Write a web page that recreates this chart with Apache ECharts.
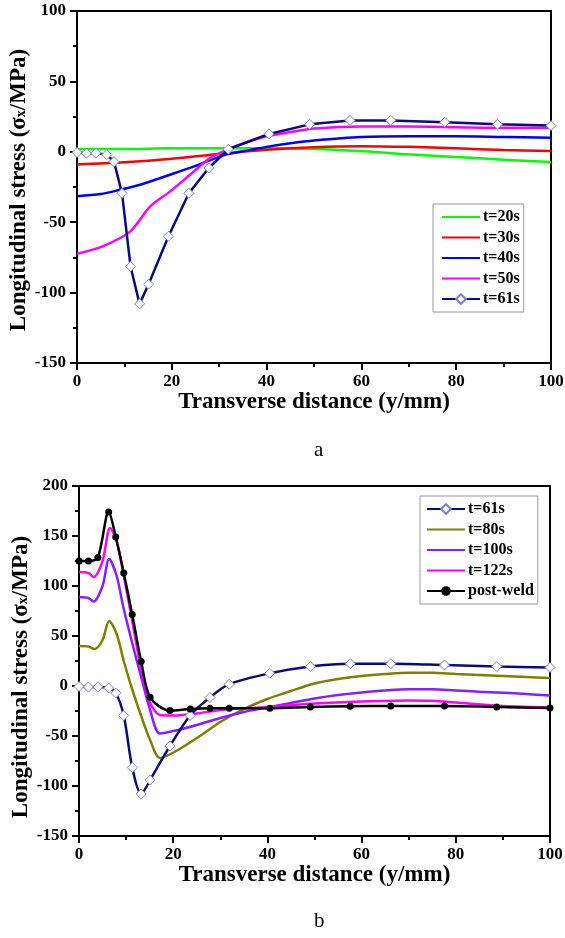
<!DOCTYPE html>
<html>
<head>
<meta charset="utf-8">
<script src="https://cdn.jsdelivr.net/npm/echarts@6.0.0/dist/echarts.min.js"></script>
<style>
  html, body { margin: 0; padding: 0; background: #fff; }
  #chart { width: 565px; height: 938px; }
</style>
</head>
<body>
<div id="chart"></div>
<script>
// x positions are transverse distance (mm), y values longitudinal stress (MPa)
const xTicks = [0, 20, 40, 60, 80, 100];
const yTicksA = [-150, -100, -50, 0, 50, 100];
const yTicksB = [-150, -100, -50, 0, 50, 100, 150, 200];

// panel a
const x20 = [0, 10, 20, 30, 40, 50, 60, 70, 80, 90, 100];
const y20 = [2, 2, 2.5, 2.5, 2.5, 2, 0.5, -1.8, -3.7, -5.6, -7.2];
const x30 = [0, 10, 20, 30, 40, 50, 60, 70, 80, 90, 100];
const y30 = [-9, -7.5, -5, -1.5, 1.5, 3.3, 4, 3.5, 2.5, 1.3, 0.5];
const x40 = [0, 5, 9, 13.3, 19.6, 25, 28, 32, 36, 40, 45, 50, 60, 70, 80, 90, 100];
const y40 = [-31.5, -30, -27, -23.4, -16.3, -10, -6, -1.5, 1, 3.5, 6, 8, 10.5, 11, 11, 10.5, 10];
const x50 = [0, 5.5, 11.2, 15.4, 19.6, 23.8, 28, 32, 36, 40, 45, 50, 60, 70, 80, 90, 100];
const y50 = [-72.5, -67, -56.7, -39, -28.3, -16.5, -4.6, 2, 7, 11, 14, 16.5, 18, 18, 17.5, 17, 17];

// t=61s, shared by both panels
const x61 = [0, 2, 4, 6.3, 7.8, 9.5, 11.3, 13.2, 15.1, 19.3, 23.6, 27.8, 31.9, 40.5, 49.1, 57.6, 66.2, 77.6, 88.7, 100];
const y61 = [-0.5, -1, -1, -2, -7, -29.5, -81.5, -108, -94, -60, -29.5, -11.5, 1.8, 12.7, 19.5, 22.3, 22.3, 21, 19.5, 18.6];

// panel b
const x80 = [0, 2, 3.3, 5, 6.4, 8, 9.5, 11.3, 13.2, 15.1, 17.2, 21, 26, 30, 35, 40, 45, 50, 55, 60, 65, 70, 75, 80, 85, 90, 95, 100];
const y80 = [40, 39.5, 37, 46, 65, 52, 25, -3.5, -30, -54, -72, -64, -49, -36, -23, -13, -5, 2.5, 7, 10, 12, 13.3, 13.3, 12, 11, 10, 9, 8];
const x100 = [0, 2, 3.1, 5, 6.4, 8, 9.4, 11.3, 13.2, 15.1, 17.2, 21, 25, 30, 35, 40, 45, 50, 55, 60, 65, 70, 75, 80, 85, 90, 95, 100];
const y100 = [89, 88, 84.5, 100, 127, 110, 79, 43, 9, -24, -47.5, -44, -39, -32, -26, -21.5, -17, -12.5, -9, -6.5, -4.5, -3.3, -3.3, -4.5, -5.7, -6.7, -8, -9.5];
const x122 = [0, 2, 3.1, 5, 6.6, 8, 9.6, 11.3, 13.2, 15.1, 17.2, 20, 25, 30, 40, 50, 60, 70, 75, 80, 90, 100];
const y122 = [114, 113, 109, 125, 158, 145, 108, 65, 17, -17, -29, -29.5, -27.5, -24, -21, -17.5, -15.5, -14.5, -14.8, -16.5, -20, -21.5];
const xPost = x61;
const yPost = [125, 125, 128.5, 174, 149, 113, 71.5, 24.5, -11.3, -24.6, -23, -22.3, -22.3, -22.3, -21, -20.3, -20, -20, -21, -22];

const legendA = ['t=20s', 't=30s', 't=40s', 't=50s', 't=61s'];
const legendB = ['t=61s', 't=80s', 't=100s', 't=122s', 'post-weld'];
// entries drawn as a plain line, no symbol in the legend
const plainLines = ['t=20s', 't=30s', 't=40s', 't=50s', 't=80s', 't=100s', 't=122s'];

const serif = 'Liberation Serif, Times New Roman, serif';
const pairs = (xs, ys) => xs.map((x, i) => [x, ys[i]]);

function curve (name, xs, ys, color, idx, extra) {
  return Object.assign({
    name: name,
    type: 'line',
    xAxisIndex: idx,
    yAxisIndex: idx,
    data: pairs(xs, ys),
    symbol: 'none',
    smooth: 0.3,
    lineStyle: { color: color, width: 2.5 },
    itemStyle: { color: color },
    z: 2
  }, extra || {});
}

const diamond = {
  symbol: 'diamond',
  symbolSize: 10,
  showAllSymbol: true,
  itemStyle: { color: '#fff', borderColor: '#7d7dd6', borderWidth: 1 },
  z: 3
};

function xAxis (idx, gap) {
  return {
    type: 'value', gridIndex: idx, min: 0, max: 100, interval: 20,
    name: 'Transverse distance (y/mm)', nameLocation: 'middle', nameGap: gap,
    nameTextStyle: { fontFamily: serif, fontWeight: 'bold', fontSize: 23, color: '#000' },
    axisLine: { onZero: false, lineStyle: { color: '#000', width: 2 } },
    axisTick: { length: 7, lineStyle: { color: '#000', width: 2 } },
    minorTick: { show: true, splitNumber: 2, length: 4, lineStyle: { color: '#000', width: 2 } },
    axisLabel: { margin: 10, fontFamily: serif, fontWeight: 'bold', fontSize: 17, color: '#000',
      formatter: v => xTicks.includes(v) ? String(v) : '' },
    splitLine: { show: false }
  };
}

function yAxis (idx, min, max, ticks, shift) {
  return {
    type: 'value', gridIndex: idx, min: min, max: max, interval: 50,
    name: '{n|Longitudinal stress (σ}{s|x}{n|/MPa)}',
    nameLocation: 'middle', nameGap: 42, nameMoveOverlap: false,
    nameTextStyle: {
      fontFamily: serif, fontWeight: 'bold', fontSize: 23, color: '#000',
      padding: [0, shift, 0, 0],
      rich: {
        n: { fontFamily: serif, fontWeight: 'bold', fontSize: 23, color: '#000', padding: [0, 0, 4, 0] },
        s: { fontFamily: serif, fontWeight: 'bold', fontSize: 14, color: '#000' }
      }
    },
    axisLine: { onZero: false, lineStyle: { color: '#000', width: 2 } },
    axisTick: { length: 7, lineStyle: { color: '#000', width: 2 } },
    minorTick: { show: true, splitNumber: 2, length: 4, lineStyle: { color: '#000', width: 2 } },
    axisLabel: { margin: 11, fontFamily: serif, fontWeight: 'bold', fontSize: 17, color: '#000',
      formatter: v => ticks.includes(v) ? String(v) : '' },
    splitLine: { show: false }
  };
}

function legend (names, left, top, pad) {
  return {
    data: names.map(n => plainLines.includes(n)
      ? { name: n, itemStyle: { color: 'rgba(0,0,0,0)', borderWidth: 0 } }
      : { name: n }),
    orient: 'vertical',
    left: left, top: top,
    padding: pad,
    itemGap: 4.5,
    itemWidth: 38,
    itemHeight: 12,
    borderColor: '#999',
    borderWidth: 1,
    backgroundColor: '#fff',
    selectedMode: false,
    textStyle: { fontFamily: serif, fontWeight: 'bold', fontSize: 16, color: '#000', padding: [0, 0, 0, -2] }
  };
}

const chart = echarts.init(document.getElementById('chart'));
chart.setOption({
  animation: false,
  backgroundColor: '#fff',
  grid: [
    { left: 77, top: 11, width: 474, height: 352, outerBoundsMode: 'none', containLabel: false,
      show: true, borderColor: '#000', borderWidth: 2 },
    { left: 79, top: 486, width: 471, height: 350, outerBoundsMode: 'none', containLabel: false,
      show: true, borderColor: '#000', borderWidth: 2 }
  ],
  xAxis: [xAxis(0, 25), xAxis(1, 27)],
  yAxis: [yAxis(0, -150, 100, yTicksA, 6), yAxis(1, -150, 200, yTicksB, 32)],
  legend: [
    legend(legendA, 433, 204, [5, 4, 5, 8]),
    legend(legendB, 420, 496, [5, 4, 5, 6])
  ],
  graphic: [
    { type: 'text', left: 314, top: 440, style: { text: 'a', font: '21px ' + serif, fill: '#000' } },
    { type: 'text', left: 314, top: 911, style: { text: 'b', font: '21px ' + serif, fill: '#000' } }
  ],
  series: [
    curve('t=20s', x20, y20, '#00ff00', 0),
    curve('t=30s', x30, y30, '#ff0000', 0),
    curve('t=40s', x40, y40, '#0000ff', 0),
    curve('t=50s', x50, y50, '#ff00ff', 0),
    curve('t=61s', x61, y61, '#0a0a80', 0, Object.assign({ smooth: false }, diamond)),
    curve('t=80s', x80, y80, '#808000', 1),
    curve('t=100s', x100, y100, '#8a1cff', 1),
    curve('t=122s', x122, y122, '#ff00ff', 1),
    curve('post-weld', xPost, yPost, '#000000', 1, {
      symbol: 'circle', symbolSize: 7, showAllSymbol: true,
      itemStyle: { color: '#000' }, z: 4
    }),
    curve('t=61s', x61, y61, '#0a0a80', 1, Object.assign({ smooth: 0.3 }, diamond))
  ]
});
</script>
</body>
</html>
